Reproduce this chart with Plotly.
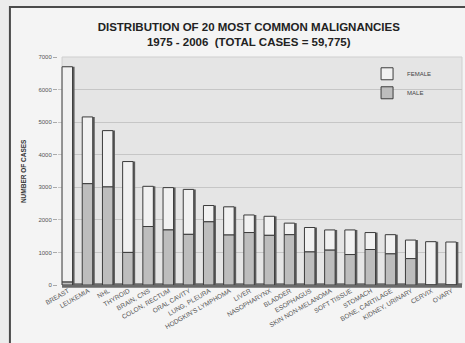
import plotly.graph_objects as go

# 20 most common malignancies, 1975-2006
sites = ["BREAST", "LEUKEMIA", "NHL", "THYROID", "BRAIN, CNS", "COLON, RECTUM",
         "ORAL CAVITY", "LUNG, PLEURA", "HODGKIN'S LYMPHOMA", "LIVER", "NASOPHARYNX",
         "BLADDER", "ESOPHAGUS", "SKIN NON-MELANOMA", "SOFT TISSUE", "STOMACH",
         "BONE, CARTILAGE", "KIDNEY, URINARY", "CERVIX", "OVARY"]
total_cases = [6700, 5160, 4740, 3790, 3030, 2990, 2935, 2440, 2400, 2150, 2110,
               1900, 1765, 1690, 1690, 1610, 1545, 1380, 1330, 1320]
male_cases = [90, 3110, 3010, 1000, 1795, 1690, 1555, 1940, 1535, 1610, 1525,
              1545, 1015, 1070, 935, 1090, 955, 810, 0, 0]
female_cases = [t - m for t, m in zip(total_cases, male_cases)]

FONT = "Liberation Sans, Arial, sans-serif"
x = list(range(len(sites)))

fig = go.Figure()

# dark side of the pseudo-3D bars
fig.add_trace(go.Bar(x=x, y=total_cases, width=0.56, offset=-0.24,
                     marker=dict(color="#5c5c5c", line=dict(width=0)),
                     showlegend=False, hoverinfo="skip"))
fig.add_trace(go.Bar(x=x, y=female_cases, base=male_cases, name="FEMALE",
                     width=0.52, offset=-0.3,
                     marker=dict(color="#f1f1f1", line=dict(color="#3c3c3c", width=1))))
fig.add_trace(go.Bar(x=x, y=male_cases, name="MALE", width=0.52, offset=-0.3,
                     marker=dict(color="#bdbdbd", line=dict(color="#3c3c3c", width=1))))

fig.update_layout(
    width=465, height=343,
    margin=dict(l=58, r=3, t=57, b=58),
    barmode="overlay",
    paper_bgcolor="#ececec",
    plot_bgcolor="rgba(0,0,0,0)",
    font=dict(family=FONT, color="#444"),
    title=dict(text="<b>DISTRIBUTION OF 20 MOST COMMON MALIGNANCIES<br>"
                    "1975 - 2006  (TOTAL CASES = 59,775)</b>",
               x=0.535, xanchor="center", y=0.91, yanchor="middle",
               font=dict(size=11.5, color="#222", family=FONT)),
    legend=dict(x=0.765, y=0.99, xanchor="left", yanchor="top",
                bgcolor="rgba(0,0,0,0)", traceorder="normal",
                font=dict(size=6, color="#444"), itemwidth=30),
    shapes=[
        # outer panel
        dict(type="rect", xref="paper", yref="paper", x0=-0.119, x1=1.05,
             y0=-0.3, y1=1.219, layer="below", fillcolor="#f4f4f4",
             line=dict(color="#4a4a4a", width=2)),
        # plot area
        dict(type="rect", xref="paper", yref="paper", x0=0.01, x1=1.0,
             y0=0, y1=1, layer="below", fillcolor="#e5e5e5",
             line=dict(color="#cfcfcf", width=1)),
        # floor
        dict(type="rect", xref="paper", yref="paper", x0=0.01, x1=1.0,
             y0=-0.012, y1=0.008, layer="below", fillcolor="#6a6a6a",
             line=dict(width=0)),
    ],
    annotations=[
        dict(text="<b>NUMBER OF CASES</b>", xref="paper", yref="paper",
             x=-0.1, y=0.5, textangle=-90, showarrow=False,
             font=dict(size=6.5, color="#333")),
    ],
)

fig.update_xaxes(range=[-0.5, 19.5], tickmode="array", tickvals=x, ticktext=sites,
                 tickangle=-30, tickfont=dict(size=6.5, color="#555"),
                 showgrid=False, zeroline=False, ticks="", automargin=False)
fig.update_yaxes(range=[0, 7000], dtick=1000, showgrid=True, gridcolor="#c6c6c6",
                 gridwidth=1, zeroline=False, ticks="outside", ticklen=4,
                 tickcolor="#aaa", tickfont=dict(size=6, color="#555"),
                 automargin=False)

fig.write_html("out.html", config={"displayModeBar": False},
               post_script="document.body.style.margin='0';")
